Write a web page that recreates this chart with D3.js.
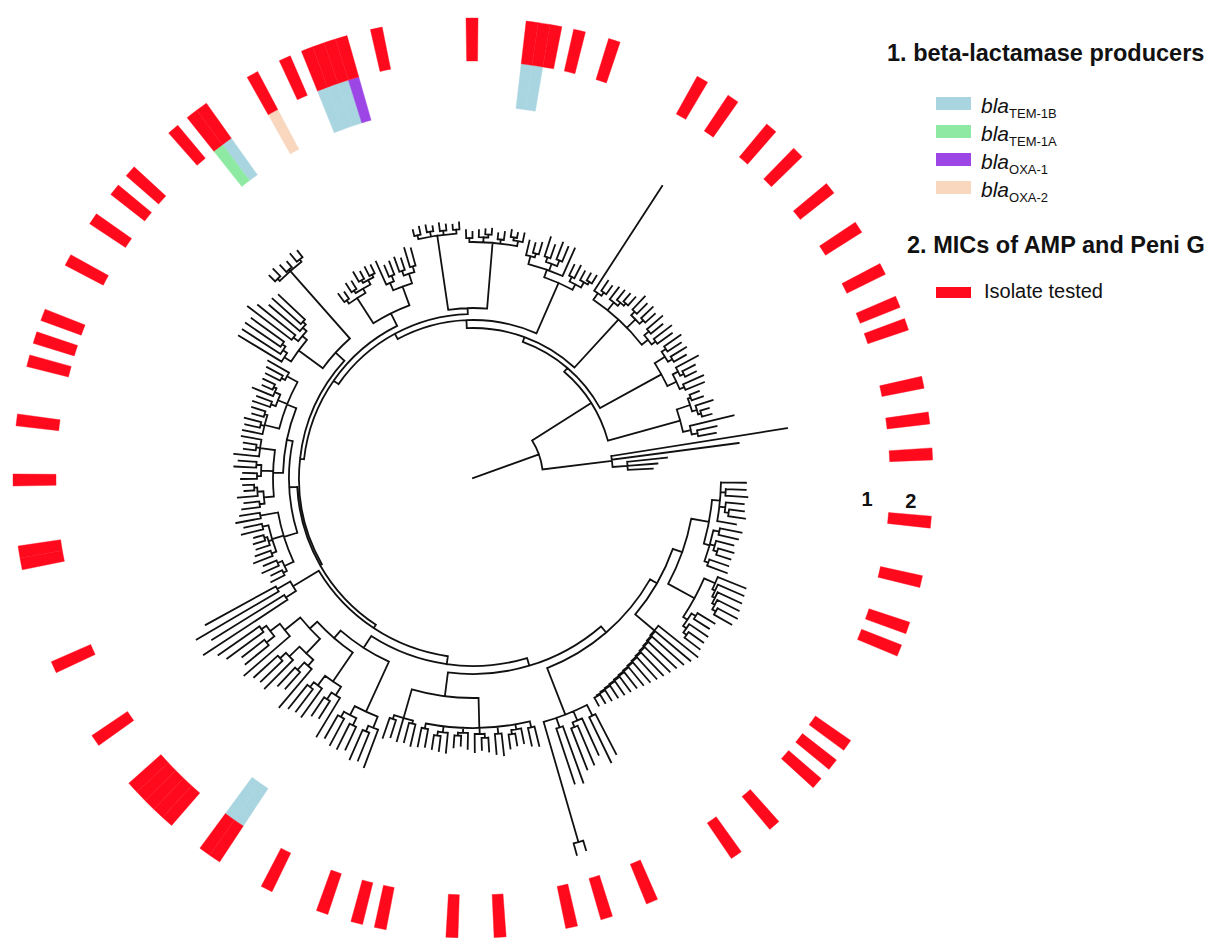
<!DOCTYPE html>
<html><head><meta charset="utf-8">
<script src="https://cdn.jsdelivr.net/npm/d3@7"></script>
<style>
body{margin:0;background:#fff}
svg{display:block}
text{font-family:"Liberation Sans",Arial,Helvetica,sans-serif}
</style>
</head><body>
<svg id="chart" width="1218" height="938"></svg>
<script>
// ---------------- DATA ----------------
// Tree clades (Newick, branch lengths in 1e-3 substitutions/site), leaf order = clockwise from the ring gap
const cladeA  = "((:25,(:20,:22):5,(:18,(:15,:17):4):6,:19):8,((:22,:20):6,(:18,(:16,:15):4):5,(:20,:21):4):6)";
const cladeB  = "((:30,(:28,(:26,(:24,(:22,:20):4):3):3):3):12,((:20,:18):5,(:22,(:18,:19):4):4):5)";
const cladeC  = "(:50,(:46,(:42,(:38,(:35,(:32,(:29,(:26,(:23,(:20,(:18,(:16,(:14,(:12,(:10,:9):1):1):1):1):1):1):1):1):1):1):1):1):1):1)";
const cladeD  = "((:45,:50):12,(:40,(:42,:44):5):10,(:60,:58):10,(:10,:12):125)";
const cladeE1 = "((:20,:18):6,(:15,(:12,:14):4):5,(:22,:20):7,((:14,:12):4,:18):6,(:16,(:10,:12):3):5,(:20,(:15,:14):4):6,(:18,:19):5)";
const cladeE2 = "((:22,:20):3,:24,(:18,:21):4)";
const cladeF1 = "((:40,(:30,:32):6):12,((:25,:28):8,(:30,:26):6):10)";
const cladeF2 = "((:45,(:20,:22):8):10,(:35,(:28,:30):6):12)";
const cladeF3 = "((:50,(:22,:25):10):8,(:40,(:30,:32):8):14)";
const cladeF4 = "(:60,((:30,:28):10,(:45,:50):6):12)";
const cladeFL = "((:100,:85):12,(:95,:80):15)";
const cladeG1 = "(((:15,:12):4,(:18,:14):5):10,((:20,:16):5,(:14,(:12,:10):3):4,(:22,:18):6):12,(:25,:20):18)";
const cladeG2 = "(((:18,:15):5,(:20,(:10,:11):3):6):10,((:16,:14):4,(:22,:18):5):12,(:25,(:12,:13):4,:20):15)";
const cladeG3 = "((:20,(:15,:17):4,(:12,:14):3):15,((:18,:16):5,(:22,(:11,:13):3):6):10,((:16,:18):4,:24):12)";
const cladeH1 = "((:50,(:45,(:42,:40):4):5):8,((:55,:48):6,(:40,(:38,:36):4):5):6)";
const cladeH2 = "((:8,:10):3,(:9,:7):2,(:10,:8):3)";
const cladeH3 = "((:10,:8):4,((:10,:9):3,((:11,:8):3,(:10,:9):3):5):5)";
const cladeH4 = "((:25,(:12,:14):6):8,((:15,:12):5,(:20,:18):6):10)";
const cladeI1 = "((:6,:8):4,(:7,:5):5,(:8,:6):4,(:5,:7):4)";
const cladeI2 = "((:8,:6):4,(:7,(:5,:6):3):5,(:6,:8):4,((:7,:5):3,:9):5)";
const cladeJ1 = "((:15,(:10,:12):4):8,((:20,:14):5,(:18,:16):6):7,:30)";
const cladeJ2 = "((:12,:14):5,(:10,(:8,:9):3):6)";
const cladeK1 = "((:125,(:12,:10):4):8,(:15,(:12,(:10,:11):3):4):10,((:18,:14):5,(:16,:13):5):12,((:20,:15):6,(:22,:18):5):8)";
const cladeK2a = "(((:20,:16):5,(:18,:14):5):12,((:25,(:14,:12):4):6,(:22,:20):5):10)";
const cladeK2b = "(((:10,:12):3,(:18,(:9,:10):3):5):14,(:45,(:20,:18):6):8)";
const cladeL  = "(:178,:128,(:40,:30,:25):15)";

const cladeE = `(${cladeE1}:30,${cladeE2}:30)`;
const cladeF = `(${cladeF1}:55,(${cladeF2}:35,(${cladeF3}:20,${cladeF4}:20):10):10)`;
const cladeG = `(${cladeG1}:14,(${cladeG2}:10,${cladeG3}:10):6)`;
const cladeH = `(${cladeH1}:30,${cladeH2}:90)`;
const cladeHH = `(${cladeH3}:30,${cladeH4}:20)`;
const cladeI = `(${cladeI1}:75,${cladeI2}:66)`;
const cladeJ = `(${cladeJ1}:8,${cladeJ2}:6)`;

const treeNewick = `(((((((((((((((${cladeA}:18,${cladeB}:30):10,${cladeC}:25):8,${cladeD}:50):8,${cladeE}:24):8,${cladeF}:14):8,${cladeFL}:30):4,${cladeG}:8):2,${cladeH}:12):4,${cladeHH}:14):6,${cladeI}:6):6,${cladeJ}:55):8,${cladeK1}:65):5,${cladeK2a}:70):5,${cladeK2b}:75):70,${cladeL}:70):70`;

// Ring 2: isolates tested for MICs of AMP and Peni G (leaf indices)
const testedLeaves = [3, 8, 12, 14, 23, 25, 27, 32, 36, 44, 48, 51, 57, 61, 67, 69, 72, 77, 82, 83,
  87, 88, 89, 90, 91, 96, 103, 112, 113, 119, 124, 129, 131, 133, 138, 142, 145, 147, 152, 154, 155,
  160, 163, 165, 166, 167, 168, 171, 179, 184, 185, 186, 188, 191, 199, 202, 206, 209, 213, 217, 221,
  224, 226, 231, 234, 237];
// Ring 1: beta-lactamase genes (leaf indices)
const blaTEM1B = [82, 83, 155, 165, 166, 167, 184, 185];
const blaTEM1A = [154];
const blaOXA1  = [168];
const blaOXA2  = [160];

const geneNames  = ["TEM-1B", "TEM-1A", "OXA-1", "OXA-2"];
const geneColors = ["#a9d5e0", "#8eeaa2", "#9d46e6", "#f9d7bf"];
const geneLeaves = [blaTEM1B, blaTEM1A, blaOXA1, blaOXA2];
const testedColor = "#ff0a1c";

// ---------------- PARSE ----------------
function parseNewick(s) {
  let i = 0;
  function node() {
    const n = {children: []};
    if (s[i] === "(") {
      i++;
      n.children.push(node());
      while (s[i] === ",") { i++; n.children.push(node()); }
      i++; // ')'
    }
    while (i < s.length && /[^:,()]/.test(s[i])) i++;
    if (s[i] === ":") {
      i++; const j = i;
      while (i < s.length && /[0-9.eE+\-]/.test(s[i])) i++;
      n.length = +s.slice(j, i);
    } else n.length = 0;
    return n;
  }
  return node();
}

const root = d3.hierarchy(parseNewick(treeNewick), d => d.children.length ? d.children : null);
const leaves = root.leaves();

// ---------------- LAYOUT ----------------
const cx = 473, cy = 478;
const svg = d3.select("#chart");
const angleScale = d3.scaleLinear().domain([0, leaves.length - 1]).range([91, 447]);
const rScale = d3.scaleLinear().domain([0, 400]).range([0, 400]);
const step = angleScale(1) - angleScale(0);

root.eachBefore(d => { d.dist = (d.parent ? d.parent.dist : 0) + d.data.length; });
leaves.forEach((d, i) => { d.angle = angleScale(i); d.index = i; });
root.eachAfter(d => { if (d.children) d.angle = d3.mean(d.children, c => c.angle); });

const toRad = deg => (deg - 90) * Math.PI / 180;
const polar = (r, deg) => [cx + r * Math.cos(toRad(deg)), cy + r * Math.sin(toRad(deg))];

// ---------------- TREE ----------------
const p = d3.path();
{
  const a = polar(0, root.angle), b = polar(rScale(root.dist), root.angle);
  p.moveTo(a[0], a[1]); p.lineTo(b[0], b[1]);
}
root.descendants().forEach(d => {
  if (d.parent) {
    const a = polar(rScale(d.parent.dist), d.angle), b = polar(rScale(d.dist), d.angle);
    p.moveTo(a[0], a[1]); p.lineTo(b[0], b[1]);
  }
  if (d.children) {
    const a0 = d3.min(d.children, c => c.angle), a1 = d3.max(d.children, c => c.angle);
    const r = rScale(d.dist);
    const s = polar(r, a0);
    p.moveTo(s[0], s[1]);
    p.arc(cx, cy, r, toRad(a0), toRad(a1), false);
  }
});
svg.append("path").attr("d", p.toString())
  .attr("fill", "none").attr("stroke", "#111").attr("stroke-width", 1.8)
  .attr("stroke-linecap", "square");

// ---------------- RINGS ----------------
const ring1 = [372, 417], ring2 = [417, 460];
const arcGen = d3.arc();
const ringG = svg.append("g").attr("transform", `translate(${cx},${cy})`);
const slot = (i, radii) => arcGen({
  innerRadius: radii[0], outerRadius: radii[1],
  startAngle: (angleScale(i) - step / 2) * Math.PI / 180,
  endAngle: (angleScale(i) + step / 2) * Math.PI / 180
});
geneLeaves.forEach((arr, k) => {
  ringG.selectAll(null).data(arr).enter().append("path")
    .attr("d", i => slot(i, ring1)).attr("fill", geneColors[k])
    .attr("stroke", geneColors[k]).attr("stroke-width", 0.4);
});
ringG.selectAll(null).data(testedLeaves).enter().append("path")
  .attr("d", i => slot(i, ring2)).attr("fill", testedColor)
  .attr("stroke", testedColor).attr("stroke-width", 0.4);

// ring labels
const labelAngle = 93;
[["1", d3.mean(ring1)], ["2", d3.mean(ring2)]].forEach(([t, r]) => {
  const pt = polar(r, labelAngle);
  svg.append("text").attr("x", pt[0]).attr("y", pt[1]).attr("text-anchor", "middle")
    .attr("dominant-baseline", "central").attr("font-size", 20).attr("font-weight", "bold")
    .attr("fill", "#111").text(t);
});

// ---------------- LEGEND ----------------
const lg = svg.append("g");
lg.append("text").attr("x", 887).attr("y", 61).attr("font-size", 23.5).attr("font-weight", "bold")
  .attr("fill", "#111").text("1. beta-lactamase producers");
geneNames.forEach((g, k) => {
  const y = 97 + k * 28;
  lg.append("rect").attr("x", 936).attr("y", y).attr("width", 35).attr("height", 13).attr("fill", geneColors[k]);
  const t = lg.append("text").attr("x", 981).attr("y", y + 16).attr("font-size", 21).attr("fill", "#111");
  t.append("tspan").attr("font-style", "italic").text("bla");
  t.append("tspan").attr("font-size", 13).attr("dy", 5).text(g);
});
lg.append("text").attr("x", 907).attr("y", 253).attr("font-size", 23.5).attr("font-weight", "bold")
  .attr("fill", "#111").text("2. MICs of AMP and Peni G");
lg.append("rect").attr("x", 936).attr("y", 287).attr("width", 35).attr("height", 11).attr("fill", testedColor);
lg.append("text").attr("x", 984).attr("y", 298).attr("font-size", 20).attr("fill", "#111").text("Isolate tested");
</script>
</body></html>
